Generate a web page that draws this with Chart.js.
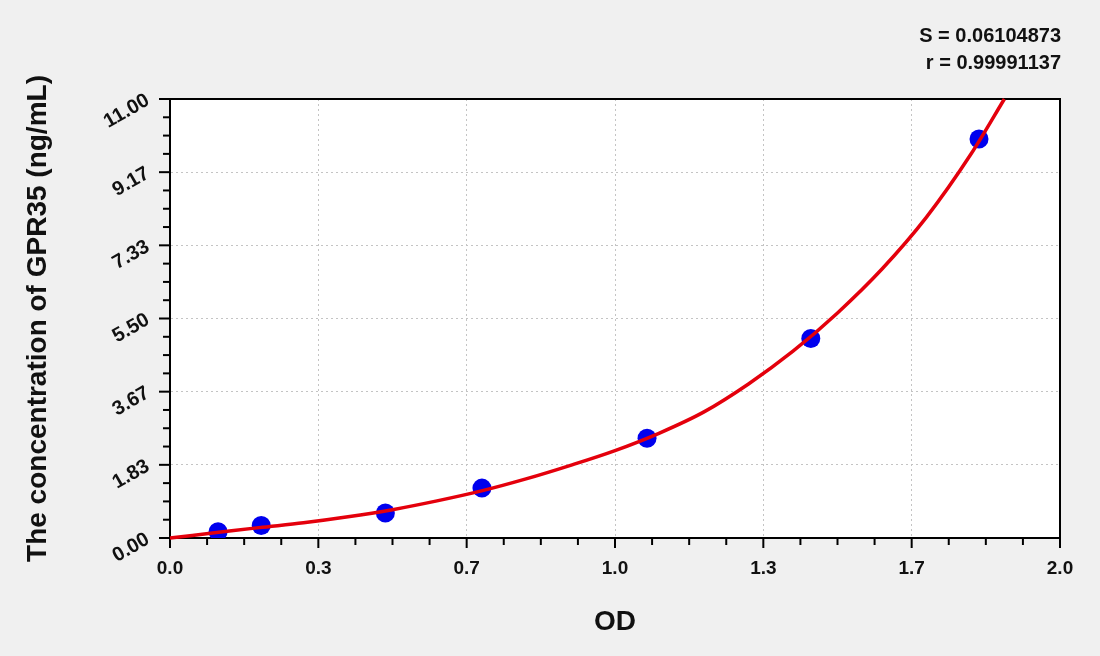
<!DOCTYPE html>
<html>
<head>
<meta charset="utf-8">
<script src="https://cdn.jsdelivr.net/npm/chart.js@4.4.1/dist/chart.umd.min.js"></script>
<style>
  html, body { margin: 0; padding: 0; background: #f0f0f0; }
  canvas { display: block; }
</style>
</head>
<body>
<canvas id="chart" width="1100" height="656"></canvas>
<script>
// standard curve readings
const odValues = [0.108, 0.205, 0.484, 0.701, 1.072, 1.440, 1.818];
const concValues = [0.156, 0.3125, 0.625, 1.25, 2.5, 5, 10];

// fitted curve
const curveOD = [0.0, 0.1, 0.2, 0.3, 0.4, 0.5, 0.6, 0.7, 0.8, 0.9, 1.0,
                 1.1, 1.2, 1.3, 1.4, 1.5, 1.6, 1.7, 1.8, 1.875];
const curveConc = [0.0, 0.13, 0.26, 0.38, 0.53, 0.71, 0.93, 1.18, 1.48, 1.82, 2.19,
                   2.63, 3.16, 3.86, 4.68, 5.64, 6.74, 8.04, 9.62, 11.0];

const xTickLabels = ['0.0', '0.3', '0.7', '1.0', '1.3', '1.7', '2.0'];
const yTickLabels = ['0.00', '1.83', '3.67', '5.50', '7.33', '9.17', '11.00'];
const xMax = 2.0;
const yMax = 11.0;
const minorPerMajor = 4;

const statLines = ['S = 0.06104873', 'r = 0.99991137'];

const fontFamily = "'Liberation Sans', Arial, sans-serif";
const textColor = '#111';

function buildTicks(max, majorCount) {
  return function (scale) {
    const n = majorCount * minorPerMajor;
    scale.ticks = [];
    for (let j = 0; j <= n; j++) {
      scale.ticks.push({ value: j * max / n });
    }
  };
}

const majorGrid = (ctx) => (ctx.index % minorPerMajor === 0 ? '#c4c4c4' : 'rgba(0,0,0,0)');

const plotDecor = {
  id: 'plotDecor',
  beforeDraw(chart) {
    const { ctx, chartArea: a } = chart;
    ctx.save();
    ctx.fillStyle = '#ffffff';
    ctx.fillRect(a.left, a.top, a.right - a.left, a.bottom - a.top);
    ctx.restore();
  },
  beforeDatasetsDraw(chart) {
    const { ctx, chartArea: a, scales } = chart;
    ctx.save();
    ctx.strokeStyle = '#000';
    ctx.lineWidth = 2;
    ctx.beginPath();
    ctx.moveTo(a.left, a.top);
    ctx.lineTo(a.right, a.top);
    ctx.lineTo(a.right, a.bottom);
    ctx.stroke();

    // tick marks, long for majors and short for minors
    scales.x.ticks.forEach((t, i) => {
      const px = scales.x.getPixelForValue(t.value);
      const len = i % minorPerMajor === 0 ? 10 : 7;
      ctx.beginPath();
      ctx.moveTo(px, a.bottom);
      ctx.lineTo(px, a.bottom + len);
      ctx.stroke();
    });
    scales.y.ticks.forEach((t, i) => {
      const py = scales.y.getPixelForValue(t.value);
      const len = i % minorPerMajor === 0 ? 11 : 7;
      ctx.beginPath();
      ctx.moveTo(a.left, py);
      ctx.lineTo(a.left - len, py);
      ctx.stroke();
    });

    // slanted y labels
    ctx.fillStyle = textColor;
    ctx.font = 'bold 20px ' + fontFamily;
    ctx.textAlign = 'right';
    ctx.textBaseline = 'middle';
    yTickLabels.forEach((label, i) => {
      const py = scales.y.getPixelForValue(i * yMax / (yTickLabels.length - 1));
      ctx.save();
      ctx.translate(a.left - 22, py);
      ctx.rotate(-Math.PI / 6);
      ctx.fillText(label, 0, 0);
      ctx.restore();
    });

    // fit statistics, top right
    ctx.font = 'bold 20px ' + fontFamily;
    statLines.forEach((line, i) => {
      ctx.fillText(line, a.right + 1, 36 + i * 27);
    });
    ctx.restore();
  }
};

new Chart(document.getElementById('chart'), {
  type: 'scatter',
  data: {
    datasets: [
      {
        type: 'line',
        data: curveOD.map((x, i) => ({ x: x, y: curveConc[i] })),
        borderColor: '#e4000c',
        borderWidth: 3.5,
        pointRadius: 0,
        cubicInterpolationMode: 'monotone',
        fill: false,
        clip: false,
        order: 0
      },
      {
        data: odValues.map((x, i) => ({ x: x, y: concValues[i] })),
        backgroundColor: '#0000ee',
        borderWidth: 0,
        pointRadius: 9.5,
        order: 1
      }
    ]
  },
  options: {
    responsive: false,
    animation: false,
    layout: { padding: { top: 99, right: 40, left: 0, bottom: 0 } },
    plugins: {
      legend: { display: false },
      tooltip: { enabled: false }
    },
    scales: {
      x: {
        type: 'linear',
        min: 0,
        max: xMax,
        afterBuildTicks: buildTicks(xMax, xTickLabels.length - 1),
        afterFit(scale) { scale.height = 118; },
        grid: { color: majorGrid, lineWidth: 1, drawTicks: false },
        border: { color: '#000', width: 2, dash: [2, 3] },
        ticks: {
          autoSkip: false,
          maxRotation: 0,
          padding: 19,
          color: textColor,
          font: { family: fontFamily, size: 19, weight: 'bold' },
          callback: (value, index) => (index % minorPerMajor === 0 ? xTickLabels[index / minorPerMajor] : '')
        },
        title: {
          display: true,
          text: 'OD',
          color: textColor,
          font: { family: fontFamily, size: 28, weight: 'bold' },
          padding: { top: 0, bottom: 17 }
        }
      },
      y: {
        type: 'linear',
        min: 0,
        max: yMax,
        afterBuildTicks: buildTicks(yMax, yTickLabels.length - 1),
        afterFit(scale) { scale.width = 170; },
        grid: { color: majorGrid, lineWidth: 1, drawTicks: false },
        border: { color: '#000', width: 2, dash: [2, 3] },
        ticks: { display: false },
        title: {
          display: true,
          text: 'The concentration of GPR35 (ng/mL)',
          color: textColor,
          font: { family: fontFamily, size: 28, weight: 'bold' },
          padding: { top: 21, bottom: 0 }
        }
      }
    }
  },
  plugins: [plotDecor]
});
</script>
</body>
</html>
